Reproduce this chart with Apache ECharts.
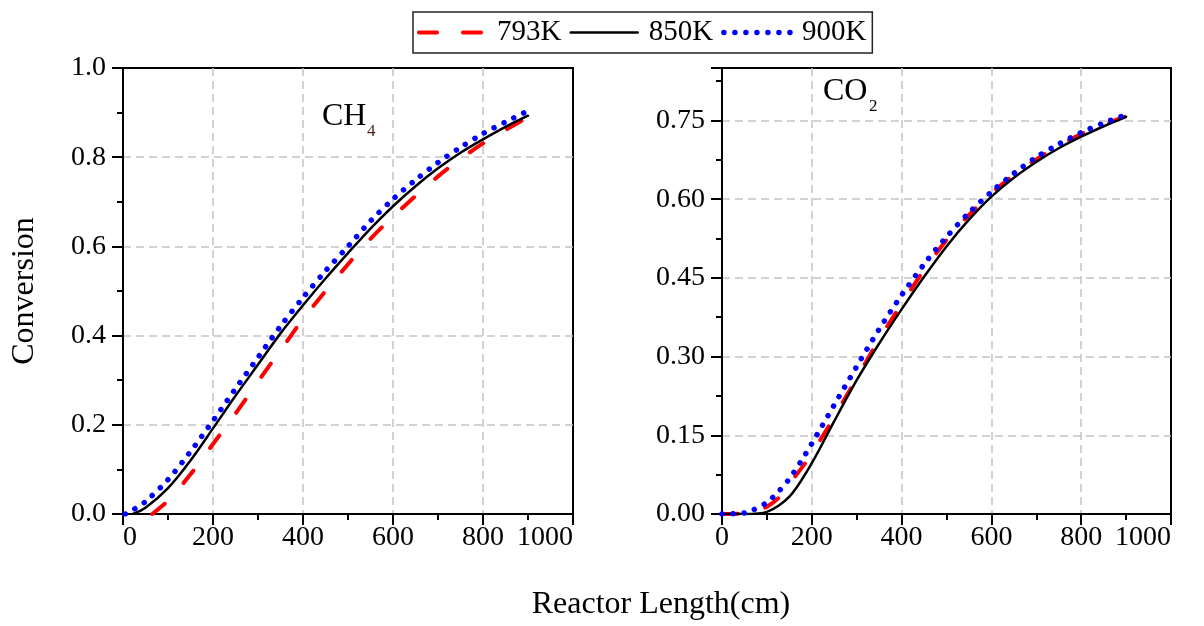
<!DOCTYPE html>
<html>
<head>
<meta charset="utf-8">
<script src="https://cdn.jsdelivr.net/npm/echarts@6/dist/echarts.min.js"></script>
<style>
  html, body { margin: 0; padding: 0; background: #fff; }
  #chart { width: 1204px; height: 626px; }
</style>
</head>
<body>
<div id="chart"></div>
<script>
// CH4 conversion vs reactor length, [length cm, conversion]
var ch4_793 = [[65, 0], [100, 0.03], [150, 0.089], [200, 0.157], [250, 0.225], [300, 0.297], [350, 0.367], [400, 0.437], [450, 0.5], [500, 0.56], [550, 0.617], [600, 0.667], [650, 0.713], [700, 0.757], [750, 0.796], [800, 0.831], [850, 0.861], [895, 0.887]];
var ch4_850 = [[22, 0], [50, 0.014], [100, 0.058], [150, 0.12], [200, 0.192], [250, 0.265], [300, 0.335], [350, 0.405], [400, 0.468], [450, 0.528], [500, 0.585], [550, 0.64], [600, 0.69], [650, 0.735], [700, 0.775], [750, 0.81], [800, 0.84], [850, 0.868], [900, 0.893]];
var ch4_900 = [[5, 0], [25, 0.011], [50, 0.028], [100, 0.077], [150, 0.14], [200, 0.209], [250, 0.281], [300, 0.351], [350, 0.421], [400, 0.485], [450, 0.545], [500, 0.6], [550, 0.657], [600, 0.706], [650, 0.749], [700, 0.788], [750, 0.822], [800, 0.853], [850, 0.879], [892, 0.9]];

// CO2 conversion
var co2_793 = [[0, 0], [50, 0.001], [75, 0.005], [100, 0.014], [125, 0.03], [150, 0.058], [175, 0.085], [200, 0.115], [250, 0.185], [300, 0.259], [350, 0.333], [400, 0.4], [450, 0.465], [500, 0.522], [550, 0.57], [600, 0.611], [650, 0.646], [700, 0.676], [750, 0.702], [800, 0.724], [850, 0.742], [900, 0.758]];
var co2_850 = [[0, 0], [50, 0], [100, 0.004], [150, 0.033], [200, 0.097], [250, 0.177], [300, 0.255], [350, 0.325], [400, 0.39], [450, 0.452], [500, 0.51], [550, 0.561], [600, 0.605], [650, 0.641], [700, 0.671], [750, 0.697], [800, 0.719], [850, 0.739], [900, 0.757]];
var co2_900 = [[0, 0], [50, 0.002], [70, 0.008], [100, 0.022], [125, 0.042], [150, 0.067], [175, 0.099], [200, 0.134], [250, 0.208], [300, 0.281], [350, 0.352], [400, 0.417], [450, 0.476], [500, 0.528], [550, 0.574], [600, 0.614], [650, 0.649], [700, 0.68], [750, 0.705], [800, 0.727], [850, 0.745], [890, 0.758]];

var names = ['793K', '850K', '900K'];

var font = 'Liberation Serif';
var chart = echarts.init(document.getElementById('chart'));

var styles = [
  { color: '#ff0000', width: 4, type: [16, 28], cap: 'round' },
  { color: '#000000', width: 2.5, type: 'solid', cap: 'round' },
  { color: '#0000ff', width: 5.5, type: [0.01, 11], cap: 'round' }
];

function mkSeries(name, data, idx, st) {
  return {
    name: name,
    type: 'line',
    xAxisIndex: idx,
    yAxisIndex: idx,
    data: data,
    smooth: 0.3,
    symbol: 'none',
    color: st.color,
    lineStyle: st
  };
}

var gridLine = { show: true, showMinLine: false, showMaxLine: false, lineStyle: { color: '#c4c4c4', width: 1.5, type: [8, 5] } };

function xAx(idx, alignMin) {
  return {
    type: 'value', gridIndex: idx, min: 0, max: 1000, interval: 200,
    axisLine: { lineStyle: { color: '#000', width: 2 } },
    axisTick: { length: 11, lineStyle: { color: '#000', width: 2 } },
    minorTick: { show: true, splitNumber: 2, length: 6, lineStyle: { color: '#000', width: 2 } },
    axisLabel: {
      color: '#000', fontFamily: font, fontSize: 28, margin: 10, alignMaxLabel: 'right', alignMinLabel: alignMin,
      formatter: function (v) { return String(v); }
    },
    splitLine: gridLine
  };
}

function yAx(idx, max, interval, digits) {
  return {
    type: 'value', gridIndex: idx, min: 0, max: max, interval: interval,
    axisLine: { show: true, lineStyle: { color: '#000', width: 2 } },
    axisTick: { show: true, length: 11, lineStyle: { color: '#000', width: 2 } },
    minorTick: { show: true, splitNumber: 2, length: 6, lineStyle: { color: '#000', width: 2 } },
    axisLabel: {
      color: '#000', fontFamily: font, fontSize: 28, margin: 17, showMaxLabel: digits == 1,
      formatter: function (v) { return v.toFixed(digits); }
    },
    splitLine: gridLine
  };
}

var yLeft = yAx(0, 1, 0.2, 1);
yLeft.name = 'Conversion';
yLeft.nameLocation = 'middle';
yLeft.nameGap = 82;
yLeft.nameTextStyle = { fontFamily: font, fontSize: 32, color: '#000' };

var legendData = names.map(function (n, i) {
  return { name: n, lineStyle: { width: styles[i].width, type: styles[i].type, cap: 'round', color: styles[i].color } };
});
legendData[0].lineStyle.type = [18, 26];

var option = {
  backgroundColor: '#fff',
  animation: false,
  legend: {
    data: legendData,
    left: 413, top: 12,
    itemWidth: 67, itemHeight: 14, itemGap: 8,
    padding: [6, 6, 6, 4],
    borderColor: '#222', borderWidth: 1.5,
    itemStyle: { opacity: 0 },
    textStyle: { fontFamily: font, fontSize: 29, color: '#000', padding: [0, 0, 0, 6] }
  },
  grid: [
    { left: 123, right: 631, top: 68, bottom: 112, show: true, borderColor: '#000', borderWidth: 2, backgroundColor: 'transparent' },
    { left: 722, right: 33, top: 68, bottom: 112, show: true, borderColor: '#000', borderWidth: 2, backgroundColor: 'transparent' }
  ],
  xAxis: [xAx(0, 'left'), xAx(1, 'center')],
  yAxis: [yLeft, yAx(1, 0.85, 0.15, 2)],
  graphic: [
    { type: 'text', x: 322, y: 117, style: { text: 'CH', font: '32px "Liberation Serif"', fill: '#000', textVerticalAlign: 'middle' } },
    { type: 'text', x: 367, y: 132, style: { text: '4', font: '17px "Liberation Serif"', fill: '#4d1f1f', textVerticalAlign: 'middle' } },
    { type: 'text', x: 823, y: 92, style: { text: 'CO', font: '32px "Liberation Serif"', fill: '#000', textVerticalAlign: 'middle' } },
    { type: 'text', x: 869, y: 107, style: { text: '2', font: '17px "Liberation Serif"', fill: '#000', textVerticalAlign: 'middle' } },
    { type: 'text', x: 661, y: 605, style: { text: 'Reactor Length(cm)', font: '32px "Liberation Serif"', fill: '#000', textAlign: 'center', textVerticalAlign: 'middle' } }
  ],
  series: [
    mkSeries('793K', ch4_793, 0, styles[0]),
    mkSeries('850K', ch4_850, 0, styles[1]),
    mkSeries('900K', ch4_900, 0, styles[2]),
    mkSeries('793K', co2_793, 1, styles[0]),
    mkSeries('850K', co2_850, 1, styles[1]),
    mkSeries('900K', co2_900, 1, styles[2])
  ]
};

chart.setOption(option);
</script>
</body>
</html>
